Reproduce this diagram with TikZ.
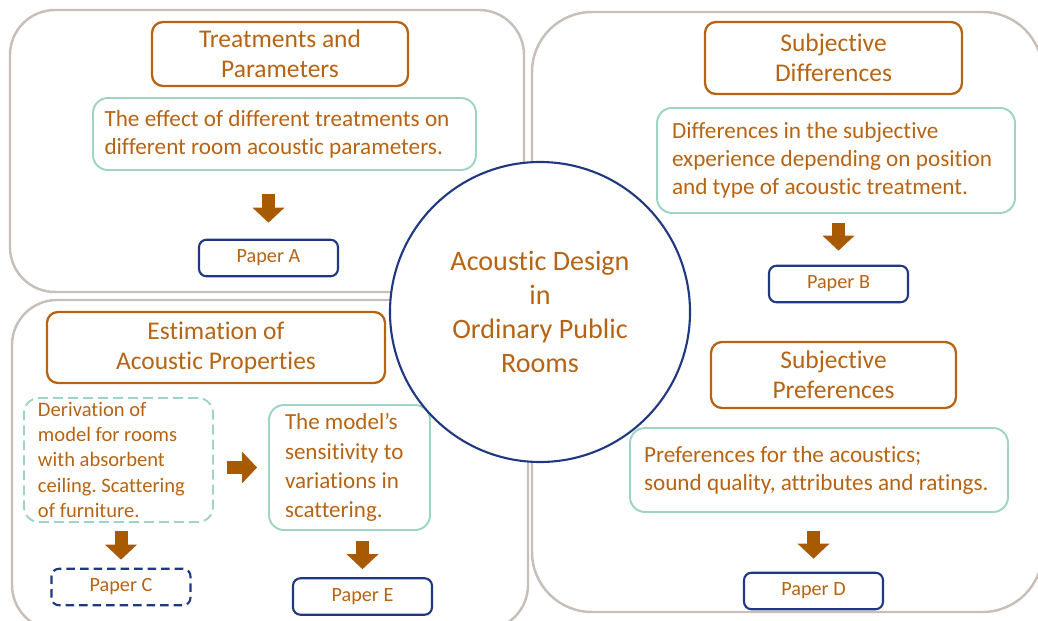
\documentclass[tikz,border=0pt]{standalone}
\usepackage{fontspec}
\setmainfont{Carlito}[Ligatures=NoCommon]
\usepackage{tikz}
\usetikzlibrary{positioning}
\usetikzlibrary{arrows.meta}
\usepackage{xcolor}
\frenchspacing

\definecolor{rust}{RGB}{182,100,20}
\definecolor{mint}{RGB}{158,212,194}
\definecolor{navy}{RGB}{32,56,130}
\definecolor{stone}{RGB}{200,192,184}
\definecolor{arrowbrown}{RGB}{168,90,0}

\tikzset{
    panel/.style={draw=stone, line width=1.4pt, rounded corners=0.9cm},
    titlebox/.style={draw=rust, line width=1.3pt, rounded corners=0.22cm,
        text=rust, align=center, inner sep=0pt,
        font=\fontsize{14.5}{17}\selectfont},
    notebox/.style={draw=mint, line width=1.1pt, rounded corners=0.3cm,
        text=rust, align=flush left, inner xsep=0.28cm, inner ysep=0pt,
        font=\fontsize{13.2}{16}\selectfont},
    paperbox/.style={draw=navy, line width=1.2pt, rounded corners=0.15cm,
        text=rust, inner sep=0pt, minimum width=2.78cm, minimum height=0.73cm,
        font=\fontsize{11.5}{13}\selectfont},
    blockarrow/.style={arrowbrown, line width=0.26cm,
        -{Triangle[width=0.62cm,length=0.3cm]}}
}

\begin{document}
\begin{tikzpicture}
                \useasboundingbox (0,0) rectangle (20.76,12.4);
                % the three panels
                \draw[panel] (0.2,6.56) rectangle (10.48,12.2);
                \draw[panel] (0.24,-0.2) rectangle (10.56,6.4);
                \draw[panel, rounded corners=1.2cm] (10.64,0.16) rectangle (20.85,12.16);

                % top left: treatments
                \node[titlebox, minimum width=5.12cm, minimum height=1.28cm] (treat) at (5.6,11.32)
                    {Treatments and\\Parameters};
                \node[notebox, inner xsep=0.23cm, text width=7.2cm, minimum height=1.44cm] (effect) at (5.69,9.72)
                    {The effect of different treatments on\\different room acoustic parameters.};
                \node[paperbox] (paperA) at (5.37,7.24) {Paper A};
                \draw[blockarrow, shorten <=0.46cm, shorten >=0.32cm] (effect.south -| paperA.north) -- (paperA.north);

                % bottom left: estimation
                \node[titlebox, minimum width=6.76cm, minimum height=1.42cm] (estim) at (4.32,5.45)
                    {Estimation of\\Acoustic Properties};
                \node[notebox, dash pattern=on 0.2cm off 0.1cm, text width=3.22cm, minimum height=2.48cm,
                    font=\fontsize{11.7}{14.4}\selectfont] (deriv) at (2.37,3.2)
                    {Derivation of\\model for rooms\\with absorbent\\ceiling. Scattering\\of furniture.};
                \node[notebox, inner xsep=0.32cm, text width=2.58cm, minimum height=2.5cm,
                    font=\fontsize{13.1}{16.6}\selectfont] (model) at (6.99,3.05)
                    {The model’s\\sensitivity to\\variations in\\scattering.};
                \node[paperbox, dash pattern=on 0.17cm off 0.1cm] (paperC) at (2.42,0.66) {Paper C};
                \node[paperbox] (paperE) at (7.25,0.47) {Paper E};
                \draw[blockarrow, shorten <=0.26cm, shorten >=0.22cm] (deriv.east |- model.west) -- (model.west);
                \draw[blockarrow, shorten <=0.16cm, shorten >=0.16cm] (deriv.south -| paperC.north) -- (paperC.north);
                \draw[blockarrow, shorten <=0.2cm, shorten >=0.16cm] (model.south -| paperE.north) -- (paperE.north);

                % right: differences and preferences
                \node[titlebox, minimum width=5.14cm, minimum height=1.44cm] (subdiff) at (16.67,11.24)
                    {Subjective\\Differences};
                \node[notebox, inner xsep=0.3cm, text width=6.56cm, minimum height=2.1cm] (diffs) at (16.72,9.19)
                    {Differences in the subjective\\experience depending on position\\and type of acoustic treatment.};
                \node[paperbox] (paperB) at (16.77,6.72) {Paper B};
                \draw[blockarrow, shorten <=0.18cm, shorten >=0.28cm] (diffs.south -| paperB.north) -- (paperB.north);

                \node[titlebox, minimum width=4.9cm, minimum height=1.32cm] (subpref) at (16.67,4.9)
                    {Subjective\\Preferences};
                \node[notebox, text width=7.0cm, minimum height=1.68cm] (prefs) at (16.38,3.0)
                    {Preferences for the acoustics;\\sound quality, attributes and ratings.};
                \node[paperbox] (paperD) at (16.27,0.58) {Paper D};
                \draw[blockarrow, shorten <=0.36cm, shorten >=0.26cm] (prefs.south -| paperD.north) -- (paperD.north);

                % centre circle
                \node[circle, draw=navy, line width=1.2pt, fill=white, minimum size=6cm,
                    text=rust, align=center, font=\fontsize{16}{19.3}\selectfont] (core) at (10.8,6.16)
                    {Acoustic Design\\in\\Ordinary Public\\Rooms};
            \end{tikzpicture}
\end{document}
